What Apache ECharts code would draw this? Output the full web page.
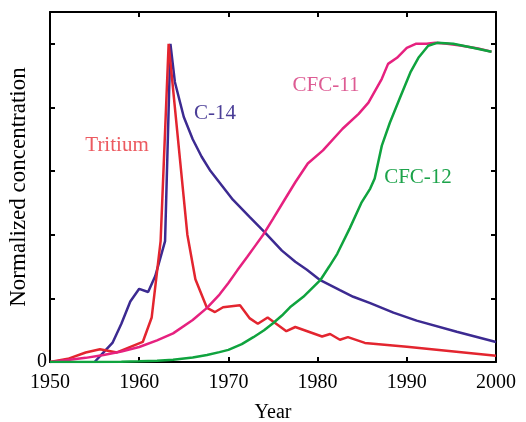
<!DOCTYPE html>
<html>
<head>
<meta charset="utf-8">
<script src="https://cdn.jsdelivr.net/npm/echarts@6/dist/echarts.min.js"></script>
<style>html,body{margin:0;padding:0;background:#fff}#c{width:526px;height:422px}</style>
</head>
<body>
<div id="c"></div>
<script>
var tritiumYears = [1950,1952,1954,1955.6,1957.5,1960.4,1961.4,1962.4,1963.3,1965.4,1966.3,1967.6,1968.5,1969.4,1971.3,1972.4,1973.3,1974.4,1976.5,1977.5,1980.5,1981.4,1982.5,1983.4,1985.3,1990,2000];
var tritiumValues = [0,0.01,0.03,0.04,0.03,0.063,0.14,0.38,1.0,0.40,0.26,0.17,0.157,0.172,0.178,0.137,0.12,0.14,0.097,0.11,0.08,0.088,0.07,0.078,0.06,0.048,0.02];

var c14Years = [1955,1956,1957,1958,1959,1960,1961,1961.8,1962.9,1963.5,1964,1965,1966,1967,1968,1970.5,1972.4,1974,1976,1977.5,1978.8,1980.3,1982.5,1984,1985.9,1988.5,1991.1,1995.6,2000];
var c14Values = [0,0.03,0.06,0.12,0.19,0.23,0.22,0.27,0.38,1.0,0.88,0.77,0.70,0.645,0.60,0.51,0.455,0.41,0.35,0.315,0.29,0.257,0.226,0.205,0.185,0.155,0.13,0.095,0.063];

var cfc11Years = [1950,1952,1954,1956,1958,1960,1962,1963.8,1966,1967.6,1969,1970,1971,1972.1,1973,1973.9,1975,1976.3,1977.5,1978.9,1980.6,1982.8,1984.6,1985.7,1987.2,1987.9,1988.9,1990,1991,1992.2,1993.2,1994.5,1996,1998,1999.5];
var cfc11Values = [0,0.006,0.013,0.022,0.033,0.047,0.068,0.09,0.132,0.17,0.212,0.248,0.288,0.33,0.365,0.40,0.45,0.51,0.565,0.624,0.665,0.733,0.78,0.815,0.89,0.937,0.956,0.987,1.0,1.0,1.003,1.0,0.995,0.985,0.975];

var cfc12Years = [1950,1955,1958,1960,1962,1963.8,1966,1967.6,1969,1970,1971.5,1972.8,1974,1975,1976,1976.9,1978.4,1980.3,1981.3,1982.2,1983.6,1984.9,1985.9,1986.4,1987.2,1988.1,1989.2,1990.4,1991.3,1992.4,1993.4,1995.2,1997,1999.5];
var cfc12Values = [0,0,0.001,0.002,0.004,0.007,0.014,0.022,0.031,0.038,0.056,0.078,0.1,0.122,0.146,0.172,0.205,0.257,0.3,0.34,0.42,0.50,0.545,0.577,0.68,0.752,0.828,0.91,0.956,0.994,1.003,1.0,0.99,0.975];

var xTicks = [1950,1960,1970,1980,1990,2000];
var yTickLabels = ['0'];

var seriesNames = ['C-14','Tritium','CFC-11','CFC-12'];
var lineColors = ['#3c2a91','#e3252f','#e6217f','#0fa33e'];
var labelColors = ['#4a3d97','#ec5a60','#dd5b93','#1ca34a'];

function pairs(xs, ys){ return xs.map(function(x,i){ return [x, ys[i]]; }); }
var dataSets = [pairs(c14Years,c14Values), pairs(tritiumYears,tritiumValues), pairs(cfc11Years,cfc11Values), pairs(cfc12Years,cfc12Values)];

var font = '"Liberation Serif", "DejaVu Serif", serif';
var chart = echarts.init(document.getElementById('c'), null, {renderer:'canvas'});

function xAxisCfg(pos, show){
  return {
    type:'value', position:pos, min:xTicks[0], max:xTicks[xTicks.length-1], interval:10,
    axisLine:{show:true, onZero:false, lineStyle:{color:'#000', width:2}},
    axisTick:{show:true, inside:true, length:5, lineStyle:{color:'#000', width:2}},
    axisLabel:{show:show, color:'#000', fontFamily:font, fontSize:20, margin:11,
      formatter:function(v){ return xTicks.indexOf(v) >= 0 ? String(v) : ''; }},
    splitLine:{show:false},
    name: show ? 'Year' : '', nameLocation:'middle', nameGap:41, nameMoveOverlap:false,
    nameTextStyle:{color:'#000', fontFamily:font, fontSize:20}
  };
}
function yAxisCfg(pos, show){
  return {
    type:'value', position:pos, min:0, max:1.1, interval:0.2,
    axisLine:{show:true, onZero:false, lineStyle:{color:'#000', width:2}},
    axisTick:{show:true, inside:true, length:5, lineStyle:{color:'#000', width:2}},
    axisLabel:{show:show, color:'#000', fontFamily:font, fontSize:20, margin:3,
      formatter:function(v){ return v === 0 ? yTickLabels[0] : ''; }},
    splitLine:{show:false},
    name: show ? 'Normalized concentration' : '', nameLocation:'middle', nameGap:20, nameMoveOverlap:false,
    nameTextStyle:{color:'#000', fontFamily:font, fontSize:23}
  };
}

var labelPos = [[215,113],[117,145],[326,85],[418,177]];

chart.setOption({
  animation:false,
  grid:{left:50, right:30, top:12, bottom:60, outerBoundsMode:'none', containLabel:false},
  xAxis:[xAxisCfg('bottom', true), xAxisCfg('top', false)],
  yAxis:[yAxisCfg('left', true), yAxisCfg('right', false)],
  series: seriesNames.map(function(n,i){
    return {name:n, type:'line', xAxisIndex:0, yAxisIndex:0, data:dataSets[i], showSymbol:false, symbol:'none',
      lineStyle:{color:lineColors[i], width:2.5}, clip:true, z:2+i};
  }),
  graphic: seriesNames.map(function(n,i){
    return {type:'text', x:labelPos[i][0], y:labelPos[i][1], z:10,
      style:{text:n, fill:labelColors[i], font:'21px ' + font, textAlign:'center', textVerticalAlign:'middle'}};
  })
});
</script>
</body>
</html>
